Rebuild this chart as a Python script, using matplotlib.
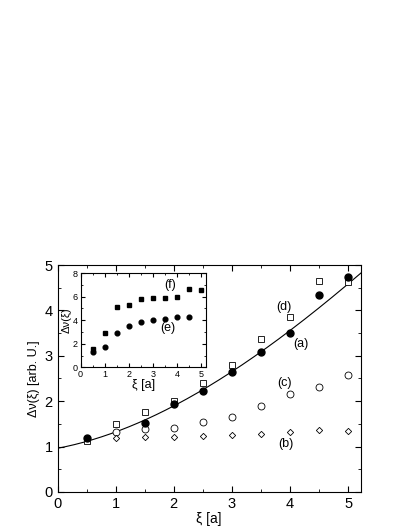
import numpy as np
import matplotlib
matplotlib.use('Agg')
import matplotlib.pyplot as plt
from matplotlib.ticker import MultipleLocator

plt.rcParams['font.family'] = ['Liberation Sans', 'DejaVu Sans']

# datos del panel principal
xi_a = [0.5, 1.5, 2.0, 2.5, 3.0, 3.5, 4.0, 4.5, 5.0]
dv_a = [1.20, 1.52, 1.93, 2.22, 2.64, 3.09, 3.51, 4.35, 4.74]

xi_b = [1.0, 1.5, 2.0, 2.5, 3.0, 3.5, 4.0, 4.5, 5.0]
dv_b = [1.20, 1.21, 1.21, 1.23, 1.26, 1.28, 1.32, 1.37, 1.35]

xi_c = [1.0, 1.5, 2.0, 2.5, 3.0, 3.5, 4.0, 4.5, 5.0]
dv_c = [1.32, 1.38, 1.40, 1.54, 1.66, 1.90, 2.16, 2.32, 2.57]

xi_d = [0.5, 1.0, 1.5, 2.0, 2.5, 3.0, 3.5, 4.0, 4.5, 5.0]
dv_d = [1.13, 1.50, 1.77, 2.00, 2.39, 2.79, 3.38, 3.85, 4.65, 4.62]

# curva de ajuste (puntos leidos)
xi_fit = [0.0, 0.5, 1.0, 1.5, 2.0, 2.5, 3.0, 3.5, 4.0, 4.5, 5.0, 5.22]
dv_fit = [1.00, 1.08, 1.28, 1.57, 1.93, 2.30, 2.68, 3.07, 3.50, 4.05, 4.62, 4.82]

# datos del inset
xi_e = [0.5, 1.0, 1.5, 2.0, 2.5, 3.0, 3.5, 4.0, 4.5]
dv_e = [1.33, 1.76, 2.89, 3.52, 3.86, 4.00, 4.14, 4.28, 4.26]

xi_f = [0.5, 1.0, 1.5, 2.0, 2.5, 3.0, 3.5, 4.0, 4.5, 5.0]
dv_f = [1.53, 2.95, 5.10, 5.28, 5.76, 5.90, 5.90, 5.99, 6.61, 6.58]

fig = plt.figure(figsize=(4.09, 5.29), dpi=100)
ax = fig.add_axes([0.1406, 0.070, 0.742, 0.429])

coef = np.polyfit(xi_fit, dv_fit, 3)
xs = np.linspace(0, 5.22, 200)
ax.plot(xs, np.polyval(coef, xs), color='black', lw=0.8)

ax.plot(xi_c, dv_c, 'o', mfc='white', mec='black', ms=5, mew=0.6)
ax.plot(xi_b, dv_b, 'D', mfc='white', mec='black', ms=3.2, mew=0.6)
ax.plot(xi_d, dv_d, 's', mfc='white', mec='black', ms=4.6, mew=0.6)
ax.plot(xi_a, dv_a, 'o', color='black', ms=5)

ax.set_xlim(0, 5.22)
ax.set_ylim(0, 5)
ax.xaxis.set_major_locator(MultipleLocator(1))
ax.xaxis.set_minor_locator(MultipleLocator(0.5))
ax.yaxis.set_major_locator(MultipleLocator(1))
ax.yaxis.set_minor_locator(MultipleLocator(0.5))
ax.tick_params(which='both', direction='in', top=True, right=True, labelsize=10.5)
ax.tick_params(which='major', length=4)
ax.tick_params(which='minor', length=2)
ax.set_xlabel('ξ [a]', fontsize=10, labelpad=1)
ax.set_ylabel('Δν(ξ) [arb. U.]', fontsize=9, labelpad=3)

ax.text(3.9, 4.07, '(d)', fontsize=9, ha='center', va='center')
ax.text(4.18, 3.25, '(a)', fontsize=9, ha='center', va='center')
ax.text(3.9, 2.4, '(c)', fontsize=9, ha='center', va='center')
ax.text(3.93, 1.05, '(b)', fontsize=9, ha='center', va='center')

# inset
ins = fig.add_axes([0.197, 0.3057, 0.306, 0.178])
ins.plot(xi_f, dv_f, 's', color='black', ms=3.2)
ins.plot(xi_e, dv_e, 'o', color='black', ms=3.4)
ins.set_xlim(0, 5.18)
ins.set_ylim(0, 8)
ins.xaxis.set_major_locator(MultipleLocator(1))
ins.xaxis.set_minor_locator(MultipleLocator(0.5))
ins.yaxis.set_major_locator(MultipleLocator(2))
ins.yaxis.set_minor_locator(MultipleLocator(1))
ins.tick_params(which='both', direction='in', top=True, right=True, labelsize=6.5, pad=2)
ins.tick_params(which='major', length=3)
ins.tick_params(which='minor', length=1.5)
ins.set_xlabel('ξ [a]', fontsize=9, labelpad=0)
ins.set_ylabel('Δν(ξ)', fontsize=8, labelpad=1)
ins.text(3.7, 7.0, '(f)', fontsize=9, ha='center', va='center')
ins.text(3.62, 3.32, '(e)', fontsize=9, ha='center', va='center')

fig.savefig('out.png', dpi=100)
